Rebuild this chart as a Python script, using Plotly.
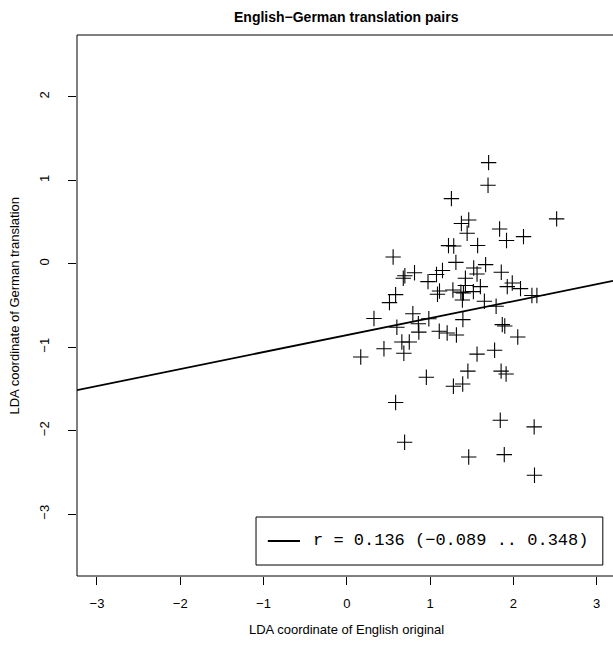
import plotly.graph_objects as go

# LDA coordinates of each English original and its German translation
en_coord = [
    1.704, 1.697, 1.257, 2.521, 1.465, 1.377, 1.446, 1.836, 2.123, 1.919,
    1.572, 1.222, 1.285, 0.557, 1.311, 1.668, 1.525, 1.565, 1.150, 1.078,
    0.814, 0.698, 0.679, 1.856, 0.976, 1.425, 1.425, 1.605, 1.275, 1.114,
    1.090, 1.371, 1.401, 1.521, 1.389, 1.653, 1.928, 1.988, 2.087, 2.224,
    2.284, 1.794, 0.587, 0.513, 0.327, 0.794, 0.860, 0.866, 0.986, 0.602,
    1.395, 1.868, 1.898, 1.111, 1.206, 1.317, 2.054, 0.662, 0.751, 0.447,
    0.686, 0.168, 1.565, 1.776, 1.455, 1.854, 1.914, 0.956, 1.281, 1.393,
    0.587, 1.844, 2.251, 0.695, 1.465, 1.892, 2.255,
]
de_coord = [
    1.211, 0.940, 0.780, 0.537, 0.525, 0.483, 0.365, 0.417, 0.325, 0.279,
    0.219, 0.217, 0.213, 0.081, 0.016, -0.011, -0.050, -0.122, -0.080, -0.128,
    -0.108, -0.143, -0.174, -0.102, -0.214, -0.174, -0.260, -0.274, -0.314, -0.326,
    -0.365, -0.340, -0.350, -0.334, -0.434, -0.449, -0.274, -0.230, -0.298, -0.380,
    -0.380, -0.509, -0.370, -0.466, -0.655, -0.598, -0.719, -0.819, -0.659, -0.760,
    -0.669, -0.729, -0.745, -0.808, -0.829, -0.853, -0.877, -0.937, -0.937, -1.018,
    -1.072, -1.116, -1.083, -1.036, -1.286, -1.286, -1.320, -1.359, -1.467, -1.440,
    -1.661, -1.874, -1.954, -2.138, -2.314, -2.286, -2.533,
]

# least-squares line and correlation with its confidence interval
fit_intercept = -0.855
fit_slope = 0.203
r_value, r_low, r_high = 0.136, -0.089, 0.348

x_ticks = [-3, -2, -1, 0, 1, 2, 3]
y_ticks = [-3, -2, -1, 0, 1, 2]

x_range = [-3.24, 3.198]
y_range = [-3.74, 2.74]

MINUS = "\u2212"


def fmt(v):
    return str(v).replace("-", MINUS)


fig = go.Figure()

fig.add_trace(go.Scatter(
    x=en_coord, y=de_coord, mode="markers",
    marker=dict(symbol="cross-thin", size=11,
                line=dict(color="black", width=1.1)),
    showlegend=False, hoverinfo="skip",
))

fig.add_trace(go.Scatter(
    x=x_range,
    y=[fit_intercept + fit_slope * v for v in x_range],
    mode="lines", line=dict(color="black", width=1.8),
    showlegend=False, hoverinfo="skip",
))

axis_font = dict(family="Liberation Sans, Arial, sans-serif", size=13, color="black")

fig.update_xaxes(
    range=x_range, tickvals=x_ticks, ticktext=[fmt(v) for v in x_ticks],
    ticks="outside", ticklen=8, tickcolor="black", tickwidth=1,
    showgrid=False, zeroline=False, showline=False,
    tickfont=axis_font, ticklabelstandoff=7,
)
fig.update_yaxes(
    range=y_range, tickvals=y_ticks, ticktext=[fmt(v) for v in y_ticks],
    ticks="outside", ticklen=8, tickcolor="black", tickwidth=1,
    showgrid=False, zeroline=False, showline=False,
    tickfont=axis_font, tickangle=-90, ticklabelstandoff=14,
)

legend_text = f"r = {r_value:.3f} ({r_low:.3f} .. {r_high:.3f})".replace("-", MINUS)

fig.update_layout(
    width=613, height=645, autosize=False,
    margin=dict(l=77, r=0, t=35, b=69),
    paper_bgcolor="white", plot_bgcolor="white",
    shapes=[
        # plot frame
        dict(type="rect", xref="paper", yref="paper", x0=0, x1=1.02, y0=0, y1=1,
             line=dict(color="black", width=1), layer="above"),
        # legend box and its line sample
        dict(type="rect", xref="paper", yref="paper", x0=0.334, x1=0.981,
             y0=0.0203, y1=0.109, line=dict(color="black", width=1),
             fillcolor="white", layer="above"),
        dict(type="line", xref="paper", yref="paper", x0=0.356, x1=0.416,
             y0=0.0647, y1=0.0647, line=dict(color="black", width=1.8), layer="above"),
    ],
    annotations=[
        dict(text="<b>English\u2212German translation pairs</b>", xref="paper", yref="paper",
             x=0.502, y=1, yshift=18, xanchor="center", yanchor="middle", showarrow=False,
             font=dict(family="Liberation Sans, Arial, sans-serif", size=14, color="black")),
        dict(text="LDA coordinate of English original", xref="paper", yref="paper",
             x=0.502, y=-0.0998, xanchor="center", yanchor="middle", showarrow=False,
             font=axis_font),
        dict(text="LDA coordinate of German translation", xref="paper", yref="paper",
             x=-0.1175, y=0.5, xanchor="center", yanchor="middle", showarrow=False,
             textangle=-90, font=axis_font),
        dict(text=legend_text, xref="paper", yref="paper",
             x=0.4366, y=0.0647, xanchor="left", yanchor="middle", showarrow=False,
             font=dict(family="Liberation Mono, DejaVu Sans Mono, monospace", size=17,
                       color="black")),
    ],
)

fig.write_html("out.html")
